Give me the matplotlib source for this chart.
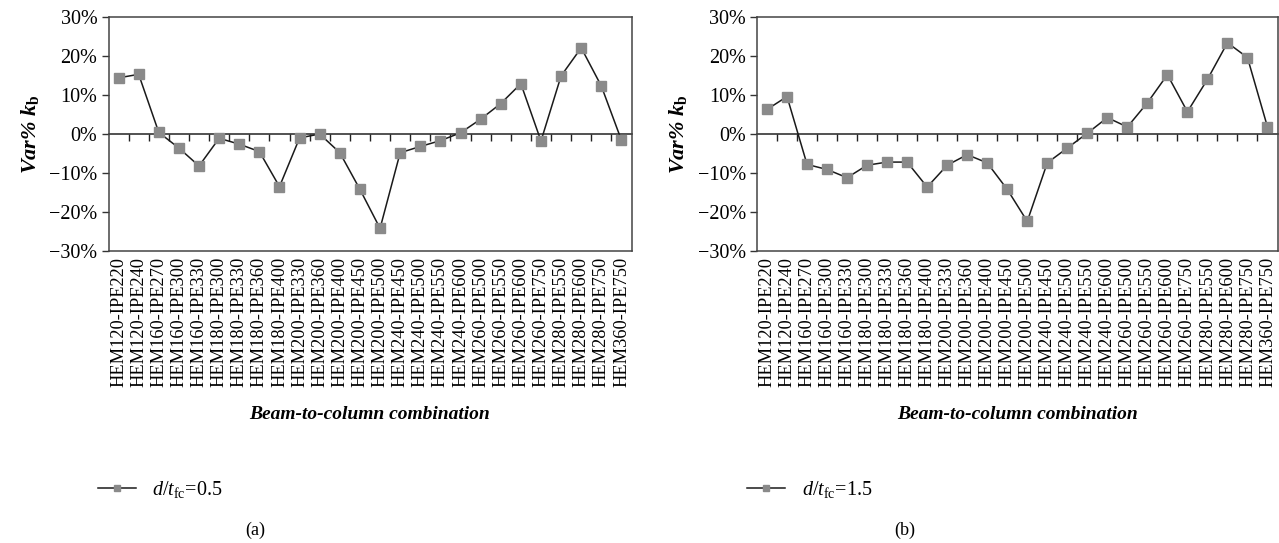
import matplotlib
matplotlib.use("Agg")
import matplotlib.pyplot as plt
from matplotlib.ticker import FuncFormatter, FixedLocator, NullFormatter

plt.rcParams["font.family"] = "Liberation Serif"
plt.rcParams["mathtext.fontset"] = "custom"
plt.rcParams["mathtext.rm"] = "Liberation Serif"
plt.rcParams["mathtext.it"] = "Liberation Serif:italic"
plt.rcParams["mathtext.bf"] = "Liberation Serif:bold"
plt.rcParams["mathtext.bfit"] = "Liberation Serif:italic:bold"

combos = ["HEM120-IPE220", "HEM120-IPE240", "HEM160-IPE270", "HEM160-IPE300",
          "HEM160-IPE330", "HEM180-IPE300", "HEM180-IPE330", "HEM180-IPE360",
          "HEM180-IPE400", "HEM200-IPE330", "HEM200-IPE360", "HEM200-IPE400",
          "HEM200-IPE450", "HEM200-IPE500", "HEM240-IPE450", "HEM240-IPE500",
          "HEM240-IPE550", "HEM240-IPE600", "HEM260-IPE500", "HEM260-IPE550",
          "HEM260-IPE600", "HEM260-IPE750", "HEM280-IPE550", "HEM280-IPE600",
          "HEM280-IPE750", "HEM360-IPE750"]

# Var% kb in percent
var_a = [14.4, 15.3, 0.4, -3.6, -8.2, -1.1, -2.6, -4.5, -13.5, -1.0, 0.0, -4.8, -14.2,
         -24.2, -4.8, -3.2, -1.7, 0.3, 3.8, 7.8, 12.9, -1.8, 14.9, 22.1, 12.3, -1.6]
var_b = [6.3, 9.6, -7.8, -9.1, -11.2, -8.0, -7.2, -7.2, -13.6, -8.0, -5.3, -7.4, -14.2,
         -22.4, -7.4, -3.6, 0.2, 4.2, 1.8, 8.0, 15.2, 5.7, 14.0, 23.4, 19.6, 1.8]

labels = [r"$d/t_{\mathrm{fc}}$=0.5", r"$d/t_{\mathrm{fc}}$=1.5"]
captions = ["(a)", "(b)"]
yticks = [-30, -20, -10, 0, 10, 20, 30]


def pct(v, _):
    return f"{v:.0f}%".replace("-", "\u2212")


W, H = 1279, 543
fig = plt.figure(figsize=(W / 100, H / 100), dpi=100)

panels = [
    (108.5, 631.5, var_a, labels[0], captions[0], 88, 255),
    (757.0, 1277.5, var_b, labels[1], captions[1], 737, 905),
]
top, bot = 17, 251

for left, right, vals, lab, cap, legx, capx in panels:
    ax = fig.add_axes([left / W, 1 - bot / H, (right - left) / W, (bot - top) / H])
    x = list(range(len(combos)))
    line, = ax.plot(x, vals, color="#1a1a1a", lw=1.1, marker="s", ms=6.5,
                    mfc="#8a8a8a", mec="#8a8a8a", zorder=3, clip_on=False)
    ax.set_xlim(-0.5, len(combos) - 0.5)
    ax.set_ylim(-30, 30)
    ax.set_yticks(yticks)
    ax.yaxis.set_major_formatter(FuncFormatter(pct))
    ax.tick_params(axis="y", direction="out", length=5, width=1, labelsize=14.5,
                   pad=3, color="#333333")
    ax.set_xticks(x)
    ax.set_xticklabels(combos, rotation=90, fontsize=13.2)
    ax.tick_params(axis="x", length=0, pad=4)
    for s in ax.spines.values():
        s.set_color("#444444")
        s.set_linewidth(1.1)

    # category axis crossing at zero, ticks between categories, pointing down
    sec = ax.secondary_xaxis(0.5)
    sec.xaxis.set_major_locator(FixedLocator([i + 0.5 for i in range(len(combos) - 1)]))
    sec.xaxis.set_major_formatter(NullFormatter())
    sec.tick_params(axis="x", direction="in", length=5, width=1, color="#222222")
    for s in sec.spines.values():
        s.set_color("#222222")
        s.set_linewidth(1.1)

    ax.set_ylabel(r"$\mathbfit{Var\%\ k}_{\mathbf{b}}$", fontsize=16, labelpad=6)
    ax.set_xlabel("Beam-to-column combination", fontsize=14, fontweight="bold",
                  style="italic", labelpad=14)

    fig.legend([line], [lab], loc="center left", frameon=False, fontsize=14.5,
               bbox_to_anchor=((legx - 8) / W, 1 - 490 / H), handlelength=1.9,
               markerscale=0.6, handletextpad=0.8)
    fig.text(capx / W, 1 - 530 / H, cap, ha="center", va="center", fontsize=13)

fig.savefig("out.png", dpi=100)
